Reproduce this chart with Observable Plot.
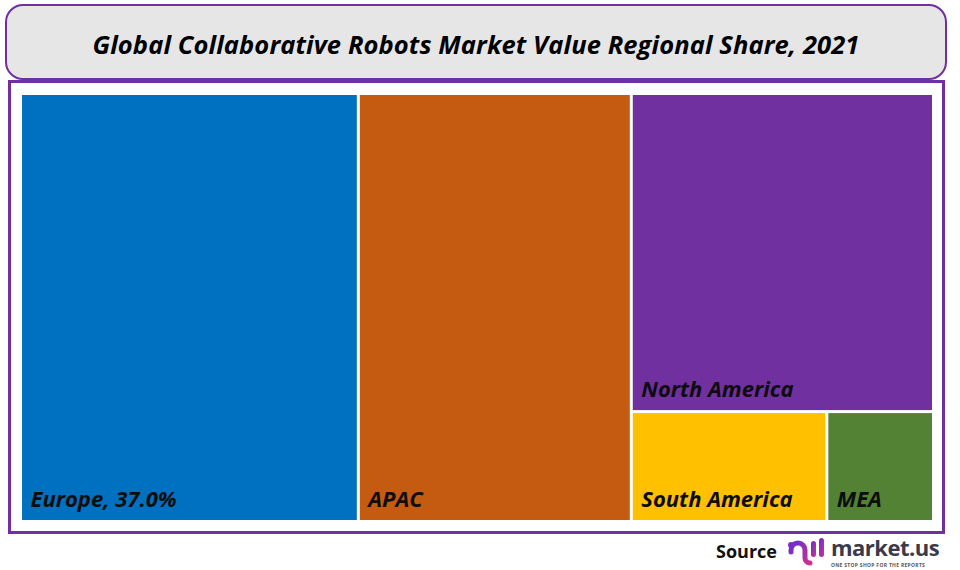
<!DOCTYPE html>
<html>
<head>
<meta charset="utf-8">
<script src="https://cdn.jsdelivr.net/npm/d3@7"></script>
<script src="https://cdn.jsdelivr.net/npm/@observablehq/plot@0.6"></script>
<style>
  html, body { margin: 0; padding: 0; background: #ffffff; }
  #wrap { position: relative; width: 960px; height: 570px; overflow: hidden; font-family: "Open Sans", sans-serif; }
  #title {
    position: absolute; left: 5px; top: 4px; width: 942px; height: 76px; box-sizing: border-box;
    border: 2px solid #7030a0; border-radius: 18px; background: #e7e6e6;
    display: flex; align-items: center; justify-content: center; padding-top: 3px;
    font-weight: 700; font-style: italic; font-size: 25.5px; color: #000; letter-spacing: 0.1px;
  }
  #frame {
    position: absolute; left: 8px; top: 80px; width: 937px; height: 454px; box-sizing: border-box;
    border: 3px solid #7030a0;
  }
  #chart { position: absolute; left: 0; top: 0; }
  #source { position: absolute; left: 716px; top: 534px; height: 34px; display: flex; align-items: center; }
  #source .src { font-weight: 700; font-size: 18px; color: #111; margin-right: 10px; }
  #source .brand { display: flex; flex-direction: column; margin-left: 6px; }
  #source .name { font-weight: 700; font-size: 22px; line-height: 24px; color: #3b3a4a; letter-spacing: -0.5px; }
  #source .tag { font-size: 5px; line-height: 6px; font-weight: 700; color: #555; letter-spacing: 0.3px; margin-top: 3px; }
</style>
</head>
<body>
<div id="wrap">
  <div id="frame"></div>
  <div id="chart"></div>
  <div id="title">Global Collaborative Robots Market Value Regional Share, 2021</div>
  <div id="source">
    <span class="src">Source</span>
    <svg width="38" height="32" viewBox="0 0 38 32">
      <defs>
        <linearGradient id="lg" x1="0" y1="0" x2="1" y2="1">
          <stop offset="0" stop-color="#6a2fd0"/>
          <stop offset="1" stop-color="#d0308f"/>
        </linearGradient>
      </defs>
      <circle cx="4" cy="10" r="3" fill="url(#lg)"/>
      <path d="M4 17 v-2 a7 7 0 0 1 14 0 v8 a5 5 0 0 0 5 5" fill="none" stroke="url(#lg)" stroke-width="5" stroke-linecap="round"/>
      <rect x="24" y="6" width="5" height="16" rx="2.5" fill="url(#lg)"/>
      <rect x="32" y="3" width="5" height="19" rx="2.5" fill="url(#lg)"/>
    </svg>
    <div class="brand">
      <span class="name">market.us</span>
      <span class="tag">ONE STOP SHOP FOR THE REPORTS</span>
    </div>
  </div>
</div>
<script>
// Data
const regions = ["Europe", "APAC", "North America", "South America", "MEA"];
const shares = [37.0, 29.9, 24.6, 5.5, 3.0];
const labels = ["Europe, 37.0%", "APAC", "North America", "South America", "MEA"];
const colors = ["#0070c0", "#c55a11", "#7030a0", "#ffc000", "#548235"];

const W = 910, H = 425;
const root = d3.hierarchy({children: regions.map((r, i) => ({region: r, value: shares[i], label: labels[i]}))})
  .sum(d => d.value || 0);
d3.treemap()
  .tile(d3.treemapSquarify.ratio(1))
  .size([W, H])
  .paddingInner(3)
  .round(false)(root);
const cells = root.leaves().map(d => ({
  region: d.data.region, label: d.data.label, value: d.data.value,
  x0: d.x0, x1: d.x1, y0: d.y0, y1: d.y1
}));

const chart = Plot.plot({
  width: 960,
  height: 570,
  marginLeft: 22,
  marginRight: 28,
  marginTop: 95,
  marginBottom: 50,
  x: {domain: [0, W], axis: null},
  y: {domain: [0, H], axis: null, reverse: true},
  color: {domain: regions, range: colors},
  style: {background: "transparent", overflow: "visible"},
  marks: [
    Plot.rect(cells, {x1: "x0", x2: "x1", y1: "y0", y2: "y1", fill: "region"}),
    Plot.text(cells, {
      x: "x0", y: "y1", text: "label",
      dx: 8, dy: -14,
      textAnchor: "start", lineAnchor: "bottom",
      fontSize: 22, fontWeight: 700, fontStyle: "italic",
      fontFamily: "Open Sans", fill: "#0d0d0d"
    })
  ]
});
document.getElementById("chart").appendChild(chart);
</script>
</body>
</html>
